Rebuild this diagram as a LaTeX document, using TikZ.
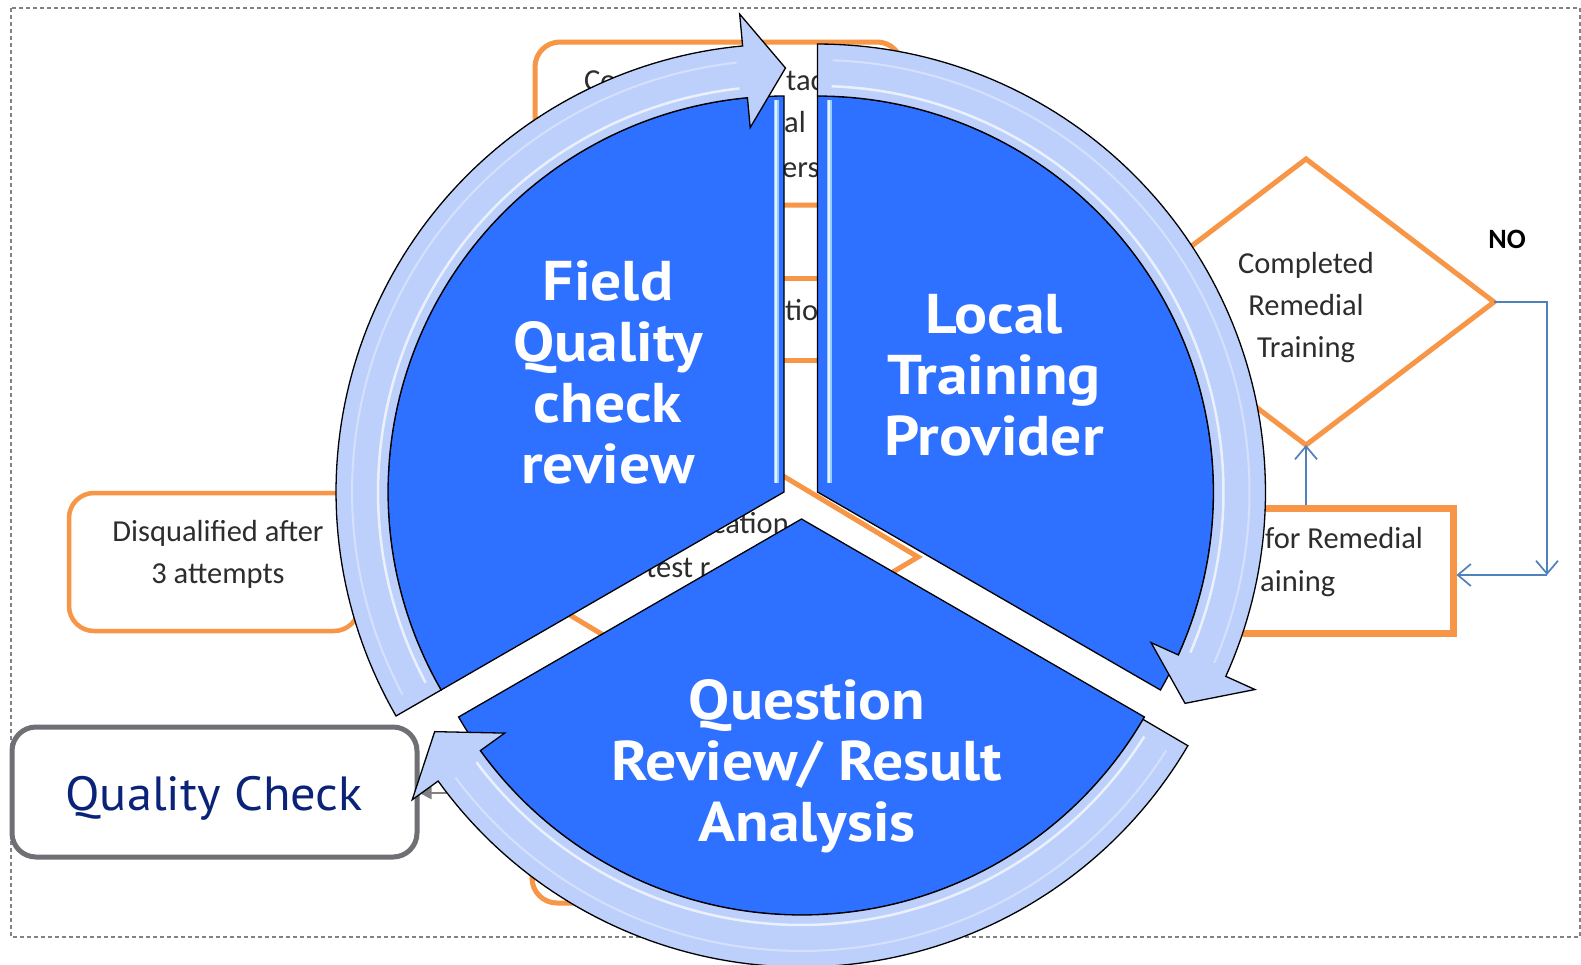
\documentclass[tikz,border=0pt]{standalone}
\usepackage{fontspec}
\usetikzlibrary{arrows.meta}
\newfontfamily\sectfont{PT Sans}[FakeStretch=1.1]
\newfontfamily\qcfont{PT Sans}[FakeStretch=1.05]
\newfontfamily\flowfont{Carlito}
\definecolor{sectblue}{RGB}{46,112,255}
\definecolor{ringblue}{RGB}{189,208,251}
\definecolor{orng}{RGB}{247,150,70}
\definecolor{conblue}{RGB}{79,129,189}
\definecolor{qcnavy}{RGB}{10,35,120}
\definecolor{qcgray}{RGB}{110,112,115}
\definecolor{txtgray}{RGB}{45,45,45}
\definecolor{hilite}{RGB}{150,205,255}
\definecolor{bordergray}{RGB}{130,130,130}
\definecolor{arrgray}{RGB}{128,128,128}

\newcommand\RingArrow[5]{%
  \filldraw[ringarrow] plot[domain=#3:#4,samples=90] ({#1+448*cos(\x)},{#2+448*sin(\x)})
    -- ({#1+480*cos(#4)},{#2+480*sin(#4)})
    -- ({#1+424*cos(#5)},{#2+424*sin(#5)})
    -- ({#1+366*cos(#4)},{#2+366*sin(#4)})
    -- plot[domain=#4:#3,samples=90] ({#1+396*cos(\x)},{#2+396*sin(\x)}) -- cycle;
  \pgfmathsetmacro\hla{#3+2}\pgfmathsetmacro\hlb{#4-1}%
  \draw[white,opacity=.7,line width=2.5pt] plot[domain=\hla:\hlb,samples=90] ({#1+406*cos(\x)},{#2+406*sin(\x)});
  \draw[white,opacity=.35,line width=2pt] plot[domain=\hla:\hlb,samples=90] ({#1+432*cos(\x)},{#2+432*sin(\x)});
}

\begin{document}
\begin{tikzpicture}[x=1pt,y=-1pt,
  obox/.style={draw=orng,line width=5pt},
  flowtext/.style={text=txtgray,font=\flowfont\fontsize{30.5pt}{36pt}\selectfont,inner sep=0pt},
  conn/.style={draw=conblue,line width=1.7pt,-{Straight Barb[length=13pt,width=22pt]}},
  sector/.style={fill=sectblue,draw=black,line width=1.3pt},
  ringarrow/.style={fill=ringblue,draw=black,line width=1.3pt,line join=miter},
  secttext/.style={text=white,font=\sectfont\bfseries\fontsize{56pt}{61pt}\selectfont,inner sep=0pt,anchor=base},
  stripe/.style={draw=hilite,line width=5pt},
  stripecore/.style={draw=white,opacity=.75,line width=1.5pt}]

\useasboundingbox (0,0) rectangle (1581,964);
\fill[white] (0,0) rectangle (1581,964);
\draw[draw=bordergray,line width=1.2pt,dash pattern=on 4pt off 3pt] (11,8) rectangle (1580,937);

% ---------- background flowchart ----------
\draw[obox,rounded corners=25pt] (535,42) rectangle (902,205);
\draw[obox] (640,278) rectangle (950,360);
\coordinate (cT) at (695,423);
\coordinate (cR) at (918,557);
\coordinate (cB) at (695,690);
\coordinate (cL) at (473,557);
\draw[obox,line join=miter] (cT) -- (cR) -- (cB) -- (cL) -- cycle;
\draw[obox,rounded corners=25pt] (532,760) rectangle (860,903);

\node[flowtext,anchor=base west] (t1) at (584,90) {Co};
\node[flowtext,anchor=base west] (t2) at (786,90) {tac};
\node[flowtext,anchor=base west] (t3) at (784,132) {al};
\node[flowtext,anchor=base west] (t4) at (782,177) {ers};
\node[flowtext,anchor=base west] (t5) at (785,320) {tio};
\node[flowtext,anchor=base east] (t6) at (789,533) {cation};
\node[flowtext,anchor=base west] (t7) at (646,577) {test r};

\node[draw=orng,line width=4.5pt,rounded corners=25pt,minimum width=290pt,minimum height=138pt] (disq) at (214,562) {};
\node[flowtext,anchor=base] (d1) at (218,541) {Disqualified after};
\node[flowtext,anchor=base] (d2) at (218,583) {3 attempts};

\coordinate (dtop) at (1306,159);
\coordinate (dright) at (1494,302);
\coordinate (dbot) at (1306,445);
\coordinate (dleft) at (1118,302);
\draw[obox,line join=miter] (dtop) -- (dright) -- (dbot) -- (dleft) -- cycle;
\node[flowtext,anchor=base] (c1) at (1306,273) {Completed};
\node[flowtext,anchor=base] (c2) at (1306,315) {Remedial};
\node[flowtext,anchor=base] (c3) at (1306,357) {Training};

\node[draw=orng,line width=7pt,minimum width=294pt,minimum height=125pt,inner sep=0pt] (rem) at (1306,570.5) {};
\node[flowtext,anchor=base west] (r1) at (1265,548) {for Remedial};
\node[flowtext,anchor=base west] (r2) at (1260,591) {aining};

\node[anchor=base,inner sep=0pt,font=\flowfont\bfseries\fontsize{28pt}{30pt}\selectfont] (no) at (1507,248) {NO};

\coordinate (nocorner) at (1547,575);
\draw[conn] (dright) -| (nocorner);
\draw[conn] (nocorner) -- (nocorner -| rem.east);
\draw[conn] (rem.north) -- (dbot);

% ---------- quality check box ----------
\node[draw=qcgray,line width=5pt,rounded corners=24pt,fill=white,minimum width=405pt,minimum height=130pt] (qc) at (214.5,792) {};
\node[anchor=base,inner sep=0pt,text=qcnavy,font=\qcfont\fontsize{48pt}{56pt}\selectfont] (qct) at (214,810) {Quality Check};
\coordinate (gstart) at (470,793);
\draw[draw=arrgray,line width=2.5pt,-{Triangle[length=12pt,width=12pt]}] (gstart) -- (qc.east |- gstart);

% ---------- sectors ----------
\filldraw[sector] (784,492) -- plot[domain=150:270,samples=90] ({784+396*cos(\x)},{492+396*sin(\x)}) -- cycle;
\filldraw[sector] (817.5,492) -- plot[domain=270:390,samples=90] ({817.5+396*cos(\x)},{492+396*sin(\x)}) -- cycle;
\filldraw[sector] (801.5,519) -- plot[domain=30:150,samples=90] ({801.5+396*cos(\x)},{519+396*sin(\x)}) -- cycle;

\draw[stripe] (776,100) -- (776,483);
\draw[stripecore] (776,100) -- (776,483);
\draw[stripe] (829,100) -- (829,483);
\draw[stripecore] (829,100) -- (829,483);

% ---------- ring arrows ----------
\RingArrow{784}{492}{150}{264.7}{270.2}
\RingArrow{817.5}{492}{270}{384.3}{389.9}
\RingArrow{801.5}{519}{30.4}{144.2}{149.9}

% ---------- sector texts ----------
\node[secttext] (f1) at (608,300) {Field};
\node[secttext] (f2) at (608,361) {Quality};
\node[secttext] (f3) at (608,422) {check};
\node[secttext] (f4) at (608,483) {review};
\node[secttext] (l1) at (994,333) {Local};
\node[secttext] (l2) at (994,394) {Training};
\node[secttext] (l3) at (994,455) {Provider};
\node[secttext] (q1) at (807,719) {Question};
\node[secttext] (q2) at (807,780) {Review/ Result};
\node[secttext] (q3) at (807,841) {Analysis};
\end{tikzpicture}
\end{document}
